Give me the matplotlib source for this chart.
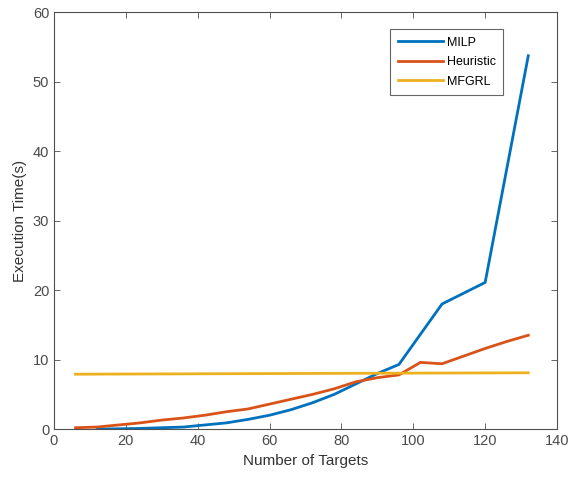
import matplotlib.pyplot as plt

plt.rcParams["font.family"] = ["Liberation Sans", "DejaVu Sans"]

# values
milp_x = [12, 18, 24, 30, 36, 42, 48, 54, 60, 66, 72, 78, 84, 90, 96, 108, 120, 132]
milp_y = [0.0, 0.05, 0.1, 0.2, 0.3, 0.6, 0.9, 1.4, 2.0, 2.8, 3.8, 5.0, 6.5, 8.0, 9.3, 18.0, 21.1, 53.7]

heur_x = [6, 12, 18, 24, 30, 36, 42, 48, 54, 60, 66, 72, 78, 84, 90, 96, 102, 108, 114, 120, 126, 132]
heur_y = [0.2, 0.3, 0.6, 0.9, 1.3, 1.6, 2.0, 2.5, 2.9, 3.6, 4.3, 5.0, 5.8, 6.8, 7.4, 7.8, 9.6, 9.4,
          10.5, 11.6, 12.6, 13.5]

mfgrl_x = [6, 36, 66, 96, 132]
mfgrl_y = [7.9, 7.95, 8.0, 8.05, 8.1]

labels = ["MILP", "Heuristic", "MFGRL"]
colors = ["#0072BD", "#D95319", "#EDB120"]

fig = plt.figure(figsize=(5.72, 4.8), dpi=100)
ax = fig.add_axes([0.0944, 0.106, 0.8794, 0.869])

ax.plot(milp_x, milp_y, color=colors[0], lw=2, label=labels[0])
ax.plot(heur_x, heur_y, color=colors[1], lw=2, label=labels[1])
ax.plot(mfgrl_x, mfgrl_y, color=colors[2], lw=2, label=labels[2])

ax.set_xlim(0, 140)
ax.set_ylim(0, 60)
ax.set_xticks(range(0, 141, 20))
ax.set_yticks(range(0, 61, 10))

axis_color = "#505050"
for s in ax.spines.values():
    s.set_color(axis_color)
    s.set_linewidth(0.8)
ax.tick_params(direction="in", top=True, right=True, length=4, width=0.6,
               color=axis_color, labelcolor="#4a4a4a", labelsize=10.5)

ax.set_xlabel("Number of Targets", fontsize=11, color="#333333")
ax.set_ylabel("Execution Time(s)", fontsize=11, color="#333333")

leg = ax.legend(loc="upper right", bbox_to_anchor=(0.893, 0.959), borderaxespad=0,
                fontsize=9, frameon=True, fancybox=False, handlelength=3.6,
                handletextpad=0.3, labelspacing=0.6, borderpad=0.6)
leg.get_frame().set_edgecolor("#404040")
leg.get_frame().set_linewidth(0.8)

fig.savefig("out.png", dpi=100)
